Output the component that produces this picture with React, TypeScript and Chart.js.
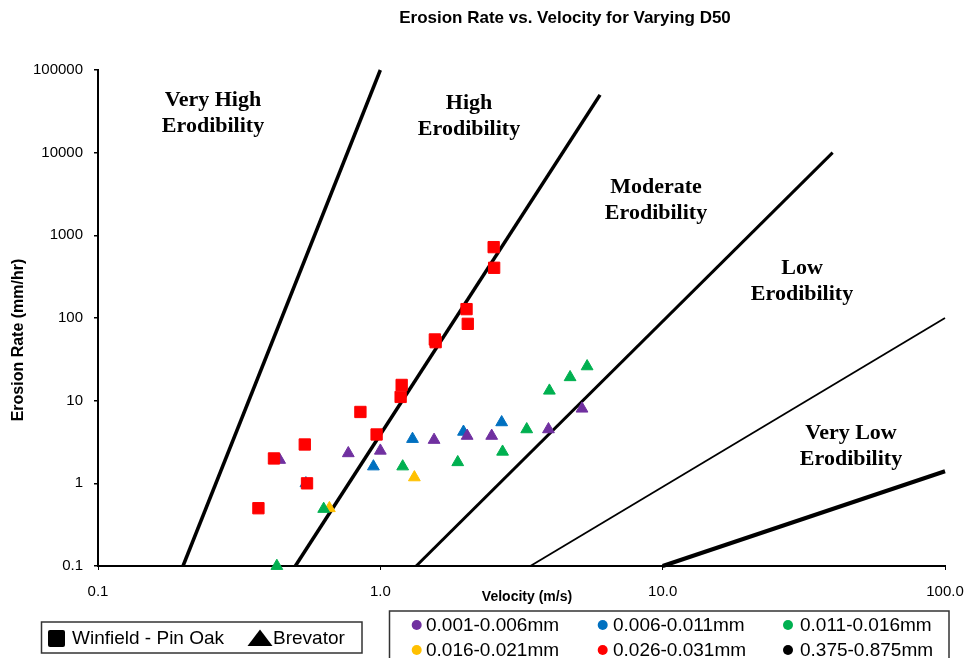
import React, { useEffect, useRef } from 'react';
import { Chart, registerables } from 'chart.js';

Chart.register(...registerables);

// ---------- texts ----------
const TITLE = 'Erosion Rate vs. Velocity for Varying D50';
const X_TITLE = 'Velocity (m/s)';
const Y_TITLE = 'Erosion Rate (mm/hr)';

// ---------- ticks ----------
const X_TICKS = [0.1, 1, 10, 100];
const X_TICK_LABELS = ['0.1', '1.0', '10.0', '100.0'];
const Y_TICKS = [0.1, 1, 10, 100, 1000, 10000, 100000];
const Y_TICK_LABELS = ['0.1', '1', '10', '100', '1000', '10000', '100000'];

// ---------- legend categories ----------
const SITES = ['Winfield - Pin Oak', 'Brevator'];
const SIZE_CLASSES = [
  '0.001-0.006mm',
  '0.006-0.011mm',
  '0.011-0.016mm',
  '0.016-0.021mm',
  '0.026-0.031mm',
  '0.375-0.875mm',
];
const SIZE_COLORS = ['#7030A0', '#0070C0', '#00B050', '#FFC000', '#FF0000', '#000000'];

// ---------- data: Winfield - Pin Oak (squares), 0.026-0.031mm ----------
const winfieldRedX = [0.37, 0.42, 0.54, 0.55, 0.85, 0.97, 1.18, 1.19, 1.56, 1.57, 2.02, 2.04, 2.52, 2.53];
const winfieldRedY = [0.5, 2.0, 2.95, 1.0, 7.3, 3.9, 11.1, 15.5, 55, 51, 128, 85, 720, 405];

// ---------- data: Brevator (triangles) ----------
const brevatorPurpleX = [0.44, 0.77, 1.0, 1.55, 2.03, 2.48, 3.94, 5.18];
const brevatorPurpleY = [1.92, 2.31, 2.48, 3.35, 3.75, 3.75, 4.5, 8.0];
const brevatorBlueX = [0.545, 0.945, 1.3, 1.97, 2.69];
const brevatorBlueY = [1.0, 1.6, 3.44, 4.2, 5.47];
const brevatorGreenX = [0.43, 0.63, 1.2, 1.88, 2.71, 3.3, 3.97, 4.7, 5.4];
const brevatorGreenY = [0.1, 0.49, 1.6, 1.8, 2.41, 4.5, 13.2, 19.2, 26];
const brevatorYellowX = [0.66, 1.32];
const brevatorYellowY = [0.5, 1.18];

// ---------- erodibility boundaries ----------
const boundaryStartX = [0.2, 0.5, 1.34, 3.4, 10];
const boundaryStartY = [0.1, 0.1, 0.1, 0.1, 0.1];
const boundaryEndX = [1.0, 6, 40, 100, 100];
const boundaryEndY = [100000, 50000, 10000, 100, 1.4];
const REGION_LABELS = [
  ['Very High', 'Erodibility'],
  ['High', 'Erodibility'],
  ['Moderate', 'Erodibility'],
  ['Low', 'Erodibility'],
  ['Very Low', 'Erodibility'],
];

// ---------- styles (pixels) ----------
const SANS = '"Liberation Sans", Arial, Helvetica, sans-serif';
const SERIF = '"Liberation Serif", "Times New Roman", serif';
const BOUNDARY_WIDTHS = [3.5, 3.5, 3, 1.8, 4];
const REGION_POS = [
  [213, 100],
  [469, 103],
  [656, 187],
  [802, 268],
  [851, 433],
];

const pts = (xs: number[], ys: number[]) => xs.map((x, i) => ({ x, y: ys[i] }));

const overlayPlugin = {
  id: 'overlayTexts',
  afterDraw(chart: any) {
    const ctx = chart.ctx as CanvasRenderingContext2D;
    ctx.save();
    ctx.fillStyle = '#000';
    ctx.strokeStyle = '#000';

    // chart title
    ctx.textAlign = 'center';
    ctx.textBaseline = 'middle';
    ctx.font = `bold 17px ${SANS}`;
    ctx.fillText(TITLE, 565, 18);

    // axis titles
    ctx.font = `bold 14px ${SANS}`;
    ctx.fillText(X_TITLE, 527, 597);
    ctx.save();
    ctx.translate(19, 340);
    ctx.rotate(-Math.PI / 2);
    ctx.font = `bold 16px ${SANS}`;
    ctx.fillText(Y_TITLE, 0, 0);
    ctx.restore();

    // region labels
    ctx.font = `bold 22px ${SERIF}`;
    REGION_LABELS.forEach((lines, i) => {
      const [cx, cy] = REGION_POS[i];
      lines.forEach((t, j) => ctx.fillText(t, cx, cy + j * 26.5));
    });

    // legend box 1 (sites)
    ctx.lineWidth = 1.5;
    ctx.strokeStyle = '#333';
    ctx.strokeRect(41.5, 622, 320.5, 31);
    ctx.fillStyle = '#000';
    ctx.beginPath();
    (ctx as any).roundRect ? (ctx as any).roundRect(48, 630, 17, 17, 2) : ctx.rect(48, 630, 17, 17);
    ctx.fill();
    ctx.beginPath();
    ctx.moveTo(260, 629.5);
    ctx.lineTo(272.5, 646);
    ctx.lineTo(247.5, 646);
    ctx.closePath();
    ctx.fill();
    ctx.textAlign = 'left';
    ctx.font = `19px ${SANS}`;
    ctx.fillText(SITES[0], 72, 639);
    ctx.fillText(SITES[1], 273, 639);

    // legend box 2 (size classes)
    ctx.strokeRect(389.5, 611, 559.5, 70);
    const colC = [416.7, 602.7, 788];
    const colT = [426, 613, 800];
    const rowY = [625, 650];
    SIZE_CLASSES.forEach((label, i) => {
      const c = i % 3;
      const r = Math.floor(i / 3);
      ctx.fillStyle = SIZE_COLORS[i];
      ctx.beginPath();
      ctx.arc(colC[c], rowY[r], 5, 0, Math.PI * 2);
      ctx.fill();
      ctx.fillStyle = '#000';
      ctx.fillText(label, colT[c], rowY[r] + 1);
    });
    ctx.restore();
  },
};

export default function App() {
  const ref = useRef<HTMLCanvasElement | null>(null);

  useEffect(() => {
    const canvas = ref.current;
    if (!canvas) return;

    const triangleSet = (xs: number[], ys: number[], color: string, label: string) => ({
      label,
      data: pts(xs, ys),
      pointStyle: 'triangle',
      pointRadius: 6.8,
      pointBackgroundColor: color,
      pointBorderColor: color,
      pointBorderWidth: 1,
      showLine: false,
      clip: false as any,
      order: 1,
    });

    const datasets: any[] = [
      {
        label: SITES[0] + ' ' + SIZE_CLASSES[4],
        data: pts(winfieldRedX, winfieldRedY),
        pointStyle: 'rect',
        pointRadius: 8,
        pointBackgroundColor: SIZE_COLORS[4],
        pointBorderColor: SIZE_COLORS[4],
        pointBorderWidth: 1,
        showLine: false,
        clip: false,
        order: 0,
      },
      triangleSet(brevatorPurpleX, brevatorPurpleY, SIZE_COLORS[0], SITES[1] + ' ' + SIZE_CLASSES[0]),
      triangleSet(brevatorBlueX, brevatorBlueY, SIZE_COLORS[1], SITES[1] + ' ' + SIZE_CLASSES[1]),
      triangleSet(brevatorGreenX, brevatorGreenY, SIZE_COLORS[2], SITES[1] + ' ' + SIZE_CLASSES[2]),
      triangleSet(brevatorYellowX, brevatorYellowY, SIZE_COLORS[3], SITES[1] + ' ' + SIZE_CLASSES[3]),
    ];

    boundaryStartX.forEach((x0, i) => {
      datasets.push({
        label: REGION_LABELS[i].join(' '),
        data: [
          { x: x0, y: boundaryStartY[i] },
          { x: boundaryEndX[i], y: boundaryEndY[i] },
        ],
        showLine: true,
        borderColor: '#000',
        borderWidth: BOUNDARY_WIDTHS[i],
        pointRadius: 0,
        fill: false,
        clip: false,
        order: 10,
      });
    });

    const chart = new Chart(canvas, {
      type: 'scatter',
      data: { datasets },
      options: {
        animation: false,
        responsive: false,
        devicePixelRatio: 1,
        layout: { padding: { top: 70, right: 19, left: 0, bottom: 0 } },
        plugins: {
          legend: { display: false },
          title: { display: false },
          tooltip: { enabled: false },
        },
        scales: {
          x: {
            type: 'logarithmic',
            min: 0.1,
            max: 100,
            afterBuildTicks: (s: any) => {
              s.ticks = X_TICKS.map((v) => ({ value: v }));
            },
            afterFit: (s: any) => {
              s.height = 92;
              s.paddingLeft = 0;
              s.paddingRight = 0;
            },
            ticks: {
              autoSkip: false,
              maxRotation: 0,
              padding: 13,
              color: '#000',
              font: { family: SANS, size: 15 },
              callback: (_v: any, i: number) => X_TICK_LABELS[i],
            },
            grid: { drawOnChartArea: false, drawTicks: true, tickLength: 4, color: '#000', lineWidth: 1 },
            border: { display: true, color: '#000', width: 2 },
          },
          y: {
            type: 'logarithmic',
            min: 0.1,
            max: 100000,
            afterBuildTicks: (s: any) => {
              s.ticks = Y_TICKS.map((v) => ({ value: v }));
            },
            afterFit: (s: any) => {
              s.width = 98;
              s.paddingTop = 0;
              s.paddingBottom = 0;
            },
            ticks: {
              autoSkip: false,
              padding: 11,
              color: '#000',
              font: { family: SANS, size: 15 },
              callback: (_v: any, i: number) => Y_TICK_LABELS[i],
            },
            grid: { drawOnChartArea: false, drawTicks: true, tickLength: 4, color: '#000', lineWidth: 1.5 },
            border: { display: true, color: '#000', width: 2 },
          },
        },
      } as any,
      plugins: [overlayPlugin],
    });

    return () => chart.destroy();
  }, []);

  return (
    <div style={{ position: 'fixed', left: 0, top: 0, width: 964, height: 658, background: '#fff', overflow: 'hidden' }}>
      <canvas ref={ref} width={964} height={658} style={{ width: 964, height: 658, display: 'block' }} />
    </div>
  );
}
